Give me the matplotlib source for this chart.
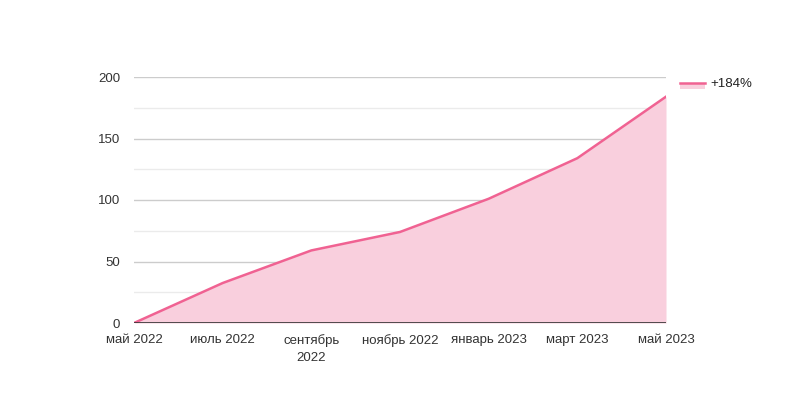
import matplotlib.pyplot as plt
from matplotlib.patches import Rectangle
from matplotlib.lines import Line2D

plt.rcParams['font.family'] = ['Liberation Sans', 'DejaVu Sans']

months = ["май 2022", "июль 2022", "сентябрь\n2022", "ноябрь 2022",
          "январь 2023", "март 2023", "май 2023"]
values = [0, 32.5, 59, 74, 101, 134, 184]
series_label = "+184%"

LINE = '#f06292'
FILL = '#f9cfdd'

fig = plt.figure(figsize=(8, 4), dpi=100)
ax = fig.add_axes([0.1675, 0.1925, 0.665, 0.615])

x = list(range(len(values)))
ax.fill_between(x, values, 0, color=FILL, linewidth=0, zorder=2)
ax.plot(x, values, color=LINE, linewidth=1.8, zorder=3)

ax.set_xlim(0, len(values) - 1)
ax.set_ylim(0, 200)

# gridlines: major every 50, minor in between
for v in range(25, 200, 50):
    ax.axhline(v, color='#ebebeb', linewidth=1, zorder=1)
for v in range(50, 201, 50):
    ax.axhline(v, color='#cccccc', linewidth=1, zorder=1)
ax.axhline(0, color='#333333', linewidth=1.2, zorder=4)

ax.set_yticks(range(0, 201, 50))
ax.set_xticks(x)
ax.set_xticklabels(months, linespacing=1.5)
ax.tick_params(axis='both', length=0, labelsize=9.5, colors='#333333')
ax.tick_params(axis='y', pad=10)
ax.tick_params(axis='x', pad=8)
for s in ax.spines.values():
    s.set_visible(False)

# legend drawn by hand: line on top of a pink box, then the label
fig.patches.append(Rectangle((680, 400 - 89), 25, 6, transform=None,
                             facecolor=FILL, edgecolor='none'))
fig.lines.append(Line2D([680, 705], [400 - 83, 400 - 83], transform=None,
                        color=LINE, linewidth=1.8))
fig.text(710 / 800, 1 - 84 / 400, series_label, fontsize=9.5,
         color='#222222', va='center', ha='left')

fig.savefig("out.png", dpi=100)
